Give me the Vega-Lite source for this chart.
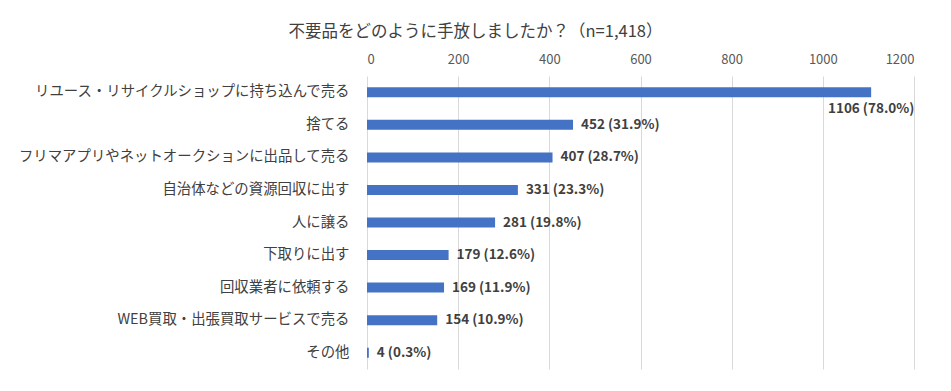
{
  "$schema": "https://vega.github.io/schema/vega-lite/v6.json",
  "width": 547,
  "height": 293,
  "autosize": {"type": "none"},
  "padding": {"left": 367, "top": 76, "right": 37, "bottom": 22},
  "background": "white",
  "title": {
    "text": "不要品をどのように手放しましたか？（n=1,418）",
    "anchor": "middle",
    "frame": "group",
    "dx": -165,
    "offset": 13,
    "font": "Noto Sans CJK JP",
    "fontSize": 16.5,
    "fontWeight": "normal",
    "color": "#404040"
  },
  "data": {
    "values": [
      {"category": "リユース・リサイクルショップに持ち込んで売る", "count": 1106, "label": "1106 (78.0%)"},
      {"category": "捨てる", "count": 452, "label": "452 (31.9%)"},
      {"category": "フリマアプリやネットオークションに出品して売る", "count": 407, "label": "407 (28.7%)"},
      {"category": "自治体などの資源回収に出す", "count": 331, "label": "331 (23.3%)"},
      {"category": "人に譲る", "count": 281, "label": "281 (19.8%)"},
      {"category": "下取りに出す", "count": 179, "label": "179 (12.6%)"},
      {"category": "回収業者に依頼する", "count": 169, "label": "169 (11.9%)"},
      {"category": "WEB買取・出張買取サービスで売る", "count": 154, "label": "154 (10.9%)"},
      {"category": "その他", "count": 4, "label": "4 (0.3%)"}
    ]
  },
  "encoding": {
    "y": {
      "field": "category",
      "type": "nominal",
      "sort": null,
      "axis": {
        "title": null,
        "ticks": false,
        "domain": false,
        "labelFont": "Noto Sans CJK JP",
        "labelFontSize": 14.4,
        "labelColor": "#404040",
        "labelPadding": 18,
        "labelLimit": 400
      }
    },
    "x": {
      "field": "count",
      "type": "quantitative",
      "scale": {"domain": [0, 1200], "nice": false},
      "axis": {
        "orient": "top",
        "title": null,
        "values": [0, 200, 400, 600, 800, 1000, 1200],
        "format": "d",
        "grid": true,
        "gridColor": "#D9D9D9",
        "domain": false,
        "ticks": false,
        "labelFont": "Noto Sans CJK JP",
        "labelFontSize": 13,
        "labelColor": "#595959",
        "labelPadding": 10
      }
    }
  },
  "layer": [
    {"mark": {"type": "bar", "size": 10, "color": "#4472C4"}},
    {
      "transform": [{"filter": "datum.count < 1000"}],
      "mark": {"type": "text", "align": "left", "baseline": "middle", "dx": 8, "font": "Noto Sans CJK JP", "fontSize": 13.5, "fontWeight": "bold", "color": "#404040"},
      "encoding": {"text": {"field": "label"}}
    },
    {
      "transform": [{"filter": "datum.count >= 1000"}],
      "mark": {"type": "text", "align": "center", "baseline": "middle", "dy": 17, "font": "Noto Sans CJK JP", "fontSize": 13.5, "fontWeight": "bold", "color": "#404040"},
      "encoding": {"text": {"field": "label"}}
    }
  ],
  "config": {"view": {"stroke": null}}
}
